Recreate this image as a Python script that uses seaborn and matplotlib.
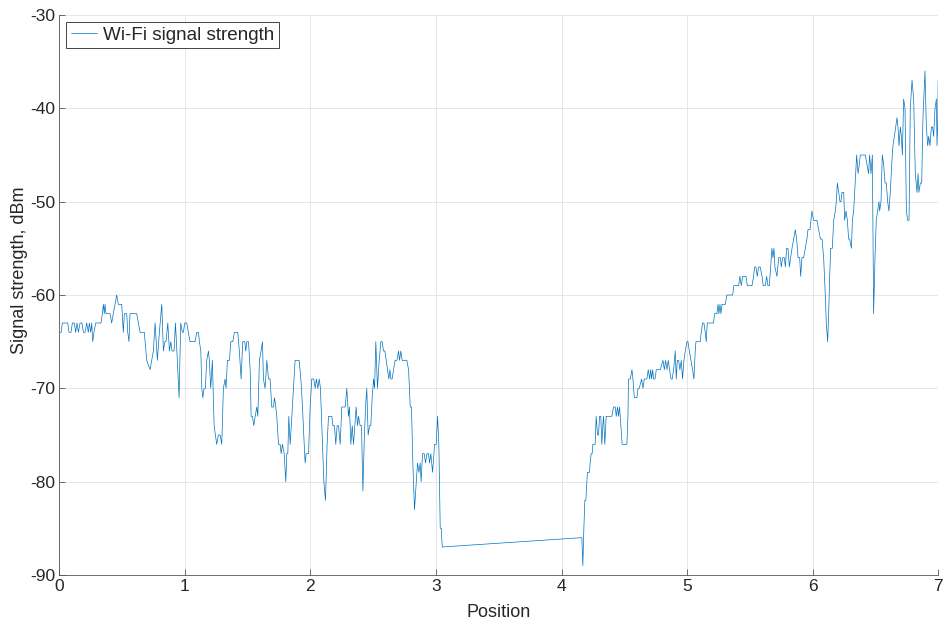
import numpy as np
import pandas as pd
import seaborn as sns
import matplotlib
matplotlib.use("Agg")
import matplotlib.pyplot as plt

# Wi-Fi signal strength (position, dBm)
position = [
    0.000, 0.015, 0.024, 0.067, 0.077, 0.093, 0.104, 0.120, 0.130, 0.141,
    0.152, 0.165, 0.180, 0.192, 0.205, 0.218, 0.231, 0.239, 0.250, 0.258,
    0.266, 0.276, 0.290, 0.332, 0.343, 0.351, 0.358, 0.364, 0.372, 0.385,
    0.404, 0.417, 0.430, 0.444, 0.457, 0.470, 0.497, 0.510, 0.518, 0.537,
    0.545, 0.555, 0.563, 0.616, 0.630, 0.643, 0.677, 0.696,
    0.723, 0.736, 0.749, 0.763, 0.781, 0.797, 0.816, 0.829, 0.840, 0.850,
    0.864, 0.877, 0.888, 0.898, 0.914, 0.925, 0.940, 0.954, 0.967, 0.980,
    0.988, 0.999, 1.015, 1.028, 1.041, 1.081, 1.095, 1.108, 1.116, 1.127,
    1.135, 1.143, 1.153, 1.163, 1.174, 1.188, 1.195, 1.206, 1.219, 1.233,
    1.243, 1.254, 1.267, 1.281, 1.294, 1.307, 1.320, 1.328, 1.339, 1.355,
    1.366, 1.382, 1.394, 1.421, 1.434, 1.448, 1.461, 1.477, 1.485,
    1.493, 1.507, 1.520, 1.528, 1.538, 1.549, 1.560, 1.573, 1.581, 1.594,
    1.607, 1.618, 1.626, 1.639, 1.653, 1.666, 1.679, 1.692, 1.706, 1.714,
    1.724, 1.732, 1.746, 1.759, 1.767, 1.777, 1.791, 1.804, 1.812, 1.820,
    1.828, 1.839, 1.852, 1.865, 1.878, 1.910, 1.924, 1.937, 1.947, 1.958,
    1.966, 1.985, 1.998, 2.011, 2.027, 2.038, 2.048, 2.059, 2.070, 2.080,
    2.096, 2.107, 2.120, 2.133, 2.144, 2.171, 2.179, 2.192, 2.202, 2.213,
    2.224,
    2.237, 2.250, 2.264, 2.277, 2.290, 2.303, 2.311, 2.322, 2.333, 2.343,
    2.354, 2.364, 2.375, 2.383, 2.396, 2.407, 2.418, 2.428, 2.439, 2.449,
    2.460, 2.471, 2.481, 2.492, 2.503, 2.511, 2.521, 2.534, 2.548, 2.561,
    2.572, 2.582, 2.593, 2.604, 2.614, 2.625, 2.633, 2.641, 2.651, 2.662,
    2.675, 2.689, 2.702, 2.710, 2.720, 2.731, 2.755, 2.768, 2.782, 2.795,
    2.805, 2.816, 2.829, 2.843, 2.853, 2.864, 2.874, 2.882, 2.893, 2.906,
    2.917, 2.928, 2.941, 2.949, 2.959, 2.973, 2.989, 3.002, 3.013, 3.023,
    3.034, 3.042, 3.050,
    4.162, 4.170, 4.178, 4.186, 4.194, 4.202, 4.207, 4.215, 4.223, 4.228,
    4.236, 4.244, 4.250, 4.260, 4.268, 4.276, 4.287, 4.295, 4.303, 4.313,
    4.321, 4.329, 4.335, 4.345, 4.356, 4.366, 4.377, 4.388, 4.401, 4.414,
    4.428, 4.436, 4.446, 4.454, 4.462, 4.473, 4.483, 4.494, 4.507, 4.521,
    4.529,
    4.534, 4.548, 4.561, 4.569, 4.580, 4.590, 4.601, 4.609, 4.619, 4.638,
    4.649, 4.659, 4.680, 4.691, 4.702, 4.710, 4.718, 4.726, 4.734, 4.745,
    4.755, 4.787, 4.808, 4.819, 4.829, 4.840, 4.850, 4.861, 4.872, 4.882,
    4.893,
    4.906, 4.914, 4.922, 4.933, 4.943, 4.954, 4.964, 4.975, 4.986, 4.999,
    5.007, 5.018, 5.031, 5.044, 5.055, 5.065, 5.071, 5.105, 5.113, 5.124,
    5.134, 5.145, 5.153, 5.161, 5.211, 5.219, 5.238, 5.246, 5.254, 5.262,
    5.270, 5.278, 5.304, 5.318, 5.363, 5.373, 5.411, 5.421, 5.432, 5.443,
    5.469, 5.480, 5.517, 5.530, 5.538, 5.549, 5.559, 5.570, 5.583, 5.597,
    5.607, 5.623, 5.634, 5.644, 5.655, 5.666, 5.676, 5.684, 5.692, 5.700,
    5.716, 5.730, 5.743, 5.751, 5.761, 5.775, 5.783, 5.793, 5.804, 5.815,
    5.825, 5.836, 5.849, 5.862, 5.873, 5.884, 5.897, 5.905, 5.915, 5.929,
    5.942, 5.955, 5.963, 5.979, 5.995, 6.008, 6.035, 6.048, 6.062, 6.075,
    6.088, 6.101, 6.109, 6.120, 6.128, 6.136, 6.144, 6.157, 6.168, 6.181,
    6.189, 6.197, 6.208, 6.218, 6.226, 6.234, 6.248, 6.255, 6.266, 6.277,
    6.287, 6.295, 6.309, 6.317, 6.327, 6.335, 6.343, 6.351, 6.362, 6.372,
    6.380, 6.407, 6.420, 6.433, 6.446, 6.454, 6.465, 6.476, 6.486, 6.497,
    6.507, 6.518, 6.529, 6.534, 6.545, 6.555, 6.566, 6.577, 6.587, 6.598,
    6.608, 6.619, 6.630, 6.640, 6.651, 6.662, 6.672, 6.680, 6.688, 6.699,
    6.707, 6.715, 6.725, 6.736, 6.747, 6.757, 6.768, 6.778, 6.792, 6.805,
    6.818, 6.832, 6.840, 6.847, 6.858, 6.869, 6.879, 6.895, 6.906, 6.917,
    6.925, 6.935, 6.946, 6.956, 6.964, 6.975, 6.986, 6.991, 6.996, 7.000,
]

signal_dbm = [
    -64, -64, -63, -63, -64, -64, -63, -63, -64, -63,
    -64, -63, -63, -64, -64, -63, -64, -63, -64, -63,
    -65, -64, -63, -63, -62, -61, -62, -61, -62, -62,
    -62, -63, -62, -61, -60, -61, -61, -64, -62, -62,
    -64, -65, -62, -62, -63, -64, -64, -67,
    -68, -67, -66, -63, -67, -64, -61, -66, -65, -65,
    -63, -66, -65, -66, -66, -63, -67, -71, -63, -64,
    -64, -63, -63, -64, -65, -65, -64, -64, -65, -66,
    -70, -71, -70, -70, -67, -66, -67, -70, -67, -74,
    -75, -76, -75, -75, -76, -70, -69, -70, -67, -67,
    -65, -65, -64, -64, -66, -69, -65, -65, -66,
    -65, -65, -68, -73, -73, -74, -73, -72, -73, -67,
    -66, -65, -69, -70, -67, -69, -69, -72, -72, -71,
    -72, -73, -76, -76, -77, -76, -77, -80, -77, -77,
    -73, -76, -73, -70, -67, -67, -69, -72, -75, -78,
    -77, -77, -72, -69, -69, -70, -69, -70, -69, -70,
    -76, -80, -82, -76, -73, -73, -74, -74, -76, -74,
    -74,
    -76, -72, -72, -72, -70, -73, -72, -76, -74, -76,
    -74, -72, -74, -73, -74, -74, -81, -76, -72, -70,
    -75, -74, -74, -71, -69, -70, -65, -70, -67, -65,
    -65, -66, -66, -67, -68, -69, -68, -69, -69, -68,
    -67, -67, -66, -67, -66, -67, -67, -67, -68, -72,
    -72, -78, -83, -80, -78, -79, -78, -80, -77, -77,
    -78, -77, -77, -78, -77, -79, -76, -76, -73, -76,
    -85, -85, -87,
    -86, -89, -85, -82, -82, -80, -79, -79, -79, -78,
    -77, -77, -76, -76, -76, -73, -75, -75, -73, -73,
    -76, -74, -73, -76, -73, -73, -73, -73, -73, -72,
    -72, -73, -72, -73, -72, -74, -76, -76, -76, -76,
    -73,
    -69, -69, -68, -69, -71, -71, -71, -70, -70, -69,
    -70, -69, -69, -68, -69, -68, -69, -68, -69, -69,
    -68, -68, -67, -68, -67, -68, -67, -68, -69, -69,
    -68,
    -66, -69, -67, -67, -68, -67, -69, -67, -66, -65,
    -65, -66, -67, -68, -69, -66, -65, -65, -64, -63,
    -63, -64, -65, -63, -63, -62, -62, -61, -62, -61,
    -62, -61, -61, -60, -60, -59, -59, -58, -59, -58,
    -58, -59, -59, -58, -57, -57, -58, -57, -57, -58,
    -59, -59, -58, -59, -59, -57, -55, -56, -55, -57,
    -58, -56, -56, -57, -56, -56, -57, -55, -55, -57,
    -56, -55, -54, -53, -54, -56, -56, -58, -56, -56,
    -55, -54, -53, -53, -51, -52, -52, -53, -54, -54,
    -56, -60, -63, -65, -62, -58, -55, -55, -52, -51,
    -50, -48, -49, -50, -50, -49, -49, -52, -51, -52,
    -54, -54, -55, -52, -51, -49, -47, -45, -47, -46,
    -45, -45, -45, -46, -47, -45, -47, -45, -62, -56,
    -52, -51, -50, -51, -50, -45, -46, -48, -48, -50,
    -51, -49, -46, -44, -43, -42, -41, -42, -44, -42,
    -43, -45, -39, -40, -51, -52, -52, -40, -37, -39,
    -47, -49, -47, -49, -48, -48, -41, -36, -42, -44,
    -43, -44, -42, -42, -43, -40, -39, -44, -42, -37,
]

df = pd.DataFrame({"Position": position, "Signal": signal_dbm})

sns.set_theme(style="whitegrid")
plt.rcParams["font.family"] = ["Liberation Sans", "DejaVu Sans"]
plt.rcParams["axes.unicode_minus"] = False

fig = plt.figure(figsize=(9.46, 6.26), dpi=100)
ax = fig.add_axes([0.0627, 0.0815, 0.929, 0.8945])

sns.lineplot(
    data=df, x="Position", y="Signal", ax=ax,
    color="#0072BD", linewidth=0.5, sort=False, estimator=None,
    label="Wi-Fi signal strength",
)

ax.set_xlim(0, 7)
ax.set_ylim(-90, -30)
ax.set_xticks(range(0, 8))
ax.set_yticks(range(-90, -29, 10))

ax.grid(True, color="#e6e6e6", linewidth=0.7)
for side in ["top", "right"]:
    ax.spines[side].set_visible(False)
for side in ["left", "bottom"]:
    ax.spines[side].set_color("#555555")
    ax.spines[side].set_linewidth(0.6)

ax.tick_params(axis="both", direction="in", length=4, width=0.6,
               color="#555555", labelcolor="#262626", labelsize=12.5, pad=3,
               left=True, bottom=True)

ax.set_xlabel("Position", fontsize=13, color="#262626")
ax.set_ylabel("Signal strength, dBm", fontsize=13, color="#262626")
ax.xaxis.set_label_coords(0.5, -0.051)
ax.yaxis.set_label_coords(-0.036, 0.545)

leg = ax.legend(loc="upper left", fontsize=13.6, fancybox=False,
                framealpha=1, edgecolor="#262626", handlelength=1.4,
                handletextpad=0.3, borderpad=0.25, borderaxespad=0.35)
leg.get_frame().set_linewidth(0.6)

fig.savefig("out.png", dpi=100)
